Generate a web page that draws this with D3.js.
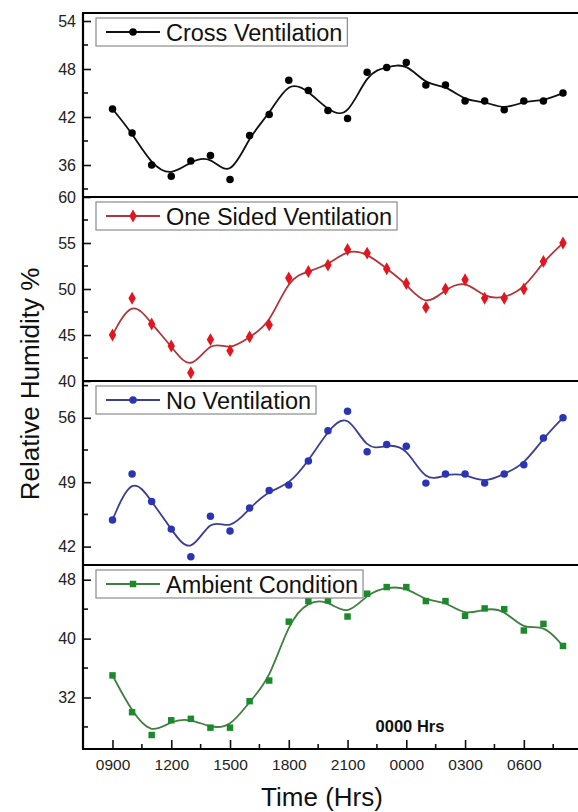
<!DOCTYPE html>
<html>
<head>
<meta charset="utf-8">
<script src="https://cdn.jsdelivr.net/npm/d3@7"></script>
<style>
  html, body { margin: 0; padding: 0; background: #fff; }
  svg { display: block; font-family: "Liberation Sans", Arial, Helvetica, sans-serif; }
</style>
</head>
<body>
<svg id="chart" width="578" height="812"></svg>
<script>
// Hourly readings, 0900 through 0800 next morning
const times = ["0900","1000","1100","1200","1300","1400","1500","1600","1700","1800","1900","2000",
               "2100","2200","2300","0000","0100","0200","0300","0400","0500","0600","0700","0800"];

// Relative humidity (%) per ventilation condition
const crossVent = [43.0, 40.0, 36.0, 34.6, 36.5, 37.2, 34.2, 39.7, 42.3, 46.6, 45.3, 42.8,
                   41.8, 47.6, 48.2, 48.8, 46.0, 46.0, 44.0, 44.0, 42.9, 44.0, 44.0, 45.0];
const oneSided  = [45.0, 49.0, 46.2, 43.8, 40.9, 44.5, 43.3, 44.8, 46.1, 51.2, 51.9, 52.6,
                   54.3, 53.9, 52.2, 50.6, 48.0, 50.0, 51.0, 49.0, 49.0, 50.0, 53.0, 55.0];
const noVent    = [44.9, 49.9, 46.9, 43.9, 40.9, 45.3, 43.7, 46.2, 48.1, 48.7, 51.3, 54.6,
                   56.7, 52.3, 53.1, 52.9, 48.9, 49.9, 49.9, 48.9, 49.9, 50.9, 53.8, 56.0];
const ambient   = [35.0, 30.0, 26.9, 28.9, 29.1, 27.9, 27.9, 31.5, 34.3, 42.3, 45.1, 45.2,
                   43.0, 46.1, 47.0, 47.0, 45.1, 45.1, 43.1, 44.1, 44.0, 41.1, 42.0, 39.0];

const seriesNames = ["Cross Ventilation", "One Sided Ventilation", "No Ventilation", "Ambient Condition"];

// Axis ranges and ticks for each stacked panel
const yDomains    = [[32, 55], [40, 60], [40, 60], [25, 50]];
const yMajorTicks = [[36, 42, 48, 54], [40, 45, 50, 55, 60], [42, 49, 56], [32, 40, 48]];
const yMinorTicks = [[33, 39, 45, 51], [42.5, 47.5, 52.5, 57.5], [45.5, 52.5, 59.5], [28, 36, 44]];

// x-axis ticks (hours after 0900)
const xMajorTicks = [0, 3, 6, 9, 12, 15, 18, 21];
const xTickLabels = ["0900", "1200", "1500", "1800", "2100", "0000", "0300", "0600"];
const xMinorTicks = [1.5, 4.5, 7.5, 10.5, 13.5, 16.5, 19.5, 22.5];

const series = [crossVent, oneSided, noVent, ambient];
const styles = [
  { line: "#111111", fill: "#000000", shape: d3.symbolCircle,  size: 44 },
  { line: "#b0363c", fill: "#e3161f", shape: d3.symbolDiamond, size: 48 },
  { line: "#3b3f8f", fill: "#2a34b4", shape: d3.symbolCircle,  size: 44 },
  { line: "#3f7f3f", fill: "#1c8a2c", shape: d3.symbolSquare,  size: 42 }
];

const svg = d3.select("#chart");
const plotLeft = 83, plotRight = 610, plotTop = 13, plotBottom = 749;
const panelH = (plotBottom - plotTop) / 4;

const x = d3.scaleLinear().domain([0, times.length - 1]).range([112.5, 563]);

const tickColor = "#222";

series.forEach((vals, p) => {
  const y0 = plotTop + p * panelH, y1 = y0 + panelH;
  const y = d3.scaleLinear().domain(yDomains[p]).range([y1, y0]);
  const g = svg.append("g");
  const st = styles[p];

  // y axis, ticks pointing into the plot
  const ax = g.append("g").attr("transform", `translate(${plotLeft},0)`)
    .call(d3.axisLeft(y).tickValues(yMajorTicks[p]).tickSizeInner(-8).tickSizeOuter(0).tickPadding(7));
  ax.select(".domain").remove();
  ax.selectAll(".tick line").attr("stroke", "#111").attr("stroke-width", 1.6);
  ax.selectAll(".tick text").attr("font-size", 16).attr("fill", tickColor);

  g.append("g").selectAll("line").data(yMinorTicks[p]).join("line")
    .attr("x1", plotLeft).attr("x2", plotLeft + 5)
    .attr("y1", d => y(d)).attr("y2", d => y(d))
    .attr("stroke", "#111").attr("stroke-width", 1.6);

  // smoothed curve
  const line = d3.line().x((d, i) => x(i)).y(d => y(d)).curve(d3.curveBasis);
  g.append("path").datum(vals).attr("d", line)
    .attr("fill", "none").attr("stroke", st.line).attr("stroke-width", 1.8);

  // markers
  g.append("g").selectAll("path").data(vals).join("path")
    .attr("transform", (d, i) => `translate(${x(i)},${y(d)})`)
    .attr("d", d3.symbol().type(st.shape).size(st.size))
    .attr("fill", st.fill);

  // legend
  const lg = g.append("g").attr("transform", `translate(96,${y0 + 5})`);
  const box = lg.append("rect").attr("height", 28).attr("fill", "#fff")
    .attr("stroke", "#8a8a8a").attr("stroke-width", 1.2);
  lg.append("line").attr("x1", 10).attr("x2", 64).attr("y1", 14).attr("y2", 14)
    .attr("stroke", st.line).attr("stroke-width", 1.8);
  lg.append("path").attr("transform", "translate(37,14)")
    .attr("d", d3.symbol().type(st.shape).size(st.size)).attr("fill", st.fill);
  const txt = lg.append("text").attr("x", 70).attr("y", 22.5)
    .attr("font-size", 23.5).attr("fill", "#111").text(seriesNames[p]);
  box.attr("width", 70 + txt.node().getComputedTextLength() + 5);
});

// frame: left spine, top edge and panel separators
svg.append("line").attr("x1", plotLeft).attr("x2", plotLeft).attr("y1", plotTop).attr("y2", plotBottom)
  .attr("stroke", "#000").attr("stroke-width", 2.2);
svg.append("g").selectAll("line").data(d3.range(5).map(k => plotTop + k * panelH)).join("line")
  .attr("x1", plotLeft - 1).attr("x2", plotRight).attr("y1", d => d).attr("y2", d => d)
  .attr("stroke", "#000").attr("stroke-width", 2.2);

// bottom x axis, ticks pointing up into the plot
const xa = svg.append("g").attr("transform", `translate(0,${plotBottom})`)
  .call(d3.axisBottom(x).tickValues(xMajorTicks).tickFormat((d, i) => xTickLabels[i])
    .tickSizeInner(-9).tickSizeOuter(0).tickPadding(10));
xa.select(".domain").remove();
xa.selectAll(".tick line").attr("stroke", "#111").attr("stroke-width", 1.6);
xa.selectAll(".tick text").attr("font-size", 15.5).attr("fill", tickColor);
svg.append("g").selectAll("line").data(xMinorTicks).join("line")
  .attr("x1", d => x(d)).attr("x2", d => x(d)).attr("y1", plotBottom).attr("y2", plotBottom - 5)
  .attr("stroke", "#111").attr("stroke-width", 1.6);

// midnight annotation
svg.append("text").attr("x", 410).attr("y", 732).attr("text-anchor", "middle")
  .attr("font-size", 16.5).attr("font-weight", "bold").attr("fill", "#111").text("0000 Hrs");

// axis titles
svg.append("text").attr("x", 322).attr("y", 806).attr("text-anchor", "middle")
  .attr("font-size", 26).attr("fill", "#111").text("Time (Hrs)");
svg.append("text").attr("transform", "translate(39,384) rotate(-90)").attr("text-anchor", "middle")
  .attr("font-size", 26).attr("fill", "#111").text("Relative Humidity %");
</script>
</body>
</html>
